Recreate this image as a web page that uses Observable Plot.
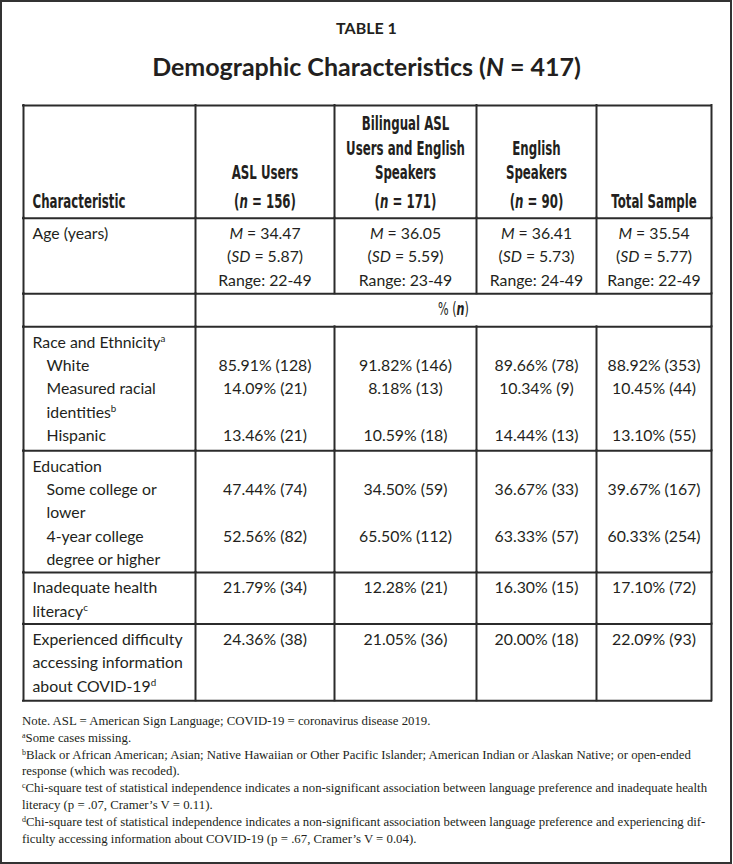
<!DOCTYPE html>
<html>
<head>
<meta charset="utf-8">
<script src="https://cdn.jsdelivr.net/npm/d3@7"></script>
<script src="https://cdn.jsdelivr.net/npm/@observablehq/plot@0.6"></script>
<style>
  html, body { margin:0; padding:0; background:#fff; }
  body { position:relative; width:733px; height:864px; overflow:hidden; color:#231f20; }
  #border { position:absolute; left:0; top:0; width:732px; height:864px; box-sizing:border-box; border:2px solid #333; pointer-events:none; }
  #kicker { position:absolute; left:0; width:733px; top:18px; line-height:20px; text-align:center; font:700 16px Lato, sans-serif; }
  #title { position:absolute; left:0; width:733px; top:51px; line-height:32px; text-align:center; font:700 25px Lato, sans-serif; }
  #chart { position:absolute; left:0; top:100px; }
  #notes { position:absolute; left:22px; top:713px; font:12.8px "Liberation Serif", serif; line-height:16.8px; white-space:nowrap; }
  #notes sup { font-size:0.62em; line-height:0; vertical-align:0.55em; }
</style>
</head>
<body>
<div id="kicker"></div>
<div id="title"></div>
<div id="chart"></div>
<div id="notes"></div>
<div id="border"></div>
<script>
// ---------------- data ----------------
const tableLabel = "TABLE 1";
const totalN = 417;
const charLabel = "Characteristic";
const groupHeader = [["ASL Users"], ["Bilingual ASL", "Users and English", "Speakers"], ["English", "Speakers"], ["Total Sample"]];
const groupN = [156, 171, 90, null];

const ageMean = [34.47, 36.05, 36.41, 35.54];
const ageSD = [5.87, 5.59, 5.73, 5.77];
const ageRange = ["22-49", "23-49", "24-49", "22-49"];

const whitePct = [85.91, 91.82, 89.66, 88.92];
const whiteN = [128, 146, 78, 353];
const measuredPct = [14.09, 8.18, 10.34, 10.45];
const measuredN = [21, 13, 9, 44];
const hispanicPct = [13.46, 10.59, 14.44, 13.10];
const hispanicN = [21, 18, 13, 55];
const someCollegePct = [47.44, 34.50, 36.67, 39.67];
const someCollegeN = [74, 59, 33, 167];
const fourYearPct = [52.56, 65.50, 63.33, 60.33];
const fourYearN = [82, 112, 57, 254];
const literacyPct = [21.79, 12.28, 16.30, 17.10];
const literacyN = [34, 21, 15, 72];
const difficultyPct = [24.36, 21.05, 20.00, 22.09];
const difficultyN = [38, 36, 18, 93];

const notes = [
  "Note. ASL = American Sign Language; COVID-19 = coronavirus disease 2019.",
  "<sup>a</sup>Some cases missing.",
  "<sup>b</sup>Black or African American; Asian; Native Hawaiian or Other Pacific Islander; American Indian or Alaskan Native; or open-ended",
  "response (which was recoded).",
  "<sup>c</sup>Chi-square test of statistical independence indicates a non-significant association between language preference and inadequate health",
  "literacy (p = .07, Cramer’s V = 0.11).",
  "<sup>d</sup>Chi-square test of statistical independence indicates a non-significant association between language preference and experiencing dif-",
  "ficulty accessing information about COVID-19 (p = .67, Cramer’s V = 0.04)."
];

const sections = [
  {heading: "Race and Ethnicity<sup>a</sup>", items: [
    {label: ["White"], pct: whitePct, n: whiteN},
    {label: ["Measured racial", "identities<sup>b</sup>"], pct: measuredPct, n: measuredN},
    {label: ["Hispanic"], pct: hispanicPct, n: hispanicN}]},
  {heading: "Education", items: [
    {label: ["Some college or", "lower"], pct: someCollegePct, n: someCollegeN},
    {label: ["4-year college", "degree or higher"], pct: fourYearPct, n: fourYearN}]},
  {heading: null, items: [{label: ["Inadequate health", "literacy<sup>c</sup>"], pct: literacyPct, n: literacyN}]},
  {heading: null, items: [{label: ["Experienced difficulty", "accessing information", "about COVID-19<sup>d</sup>"], pct: difficultyPct, n: difficultyN}]}
];

// ---------------- layout ----------------
const W = 733, H = 606;
const tableTop = 5, tableLeft = 23;
const colWidths = [172, 139, 142, 120, 115];
const rowHeights = [112.7, 75.6, 33, 124, 121.6, 51.7, 76.7];
const headerSlots = [18.3, 43.3, 67.7, 96.7];
const firstLine = 15.8, lineH = 23.3, padLeft = 9, indent = 14;
const ink = "#231f20", lineColor = "#2b2b2b";
const bodyFont = "Lato, 'Open Sans', sans-serif", bodySize = 15.8;
const headFont = "'Liberation Sans Narrow', 'DejaVu Sans Condensed', 'Liberation Sans', sans-serif", headSize = 19;
const headTargetWidth = 93; // rendered width of the "Characteristic" header in the reference

const colEdges = colWidths.reduce((a, w) => (a.push(a[a.length - 1] + w), a), [tableLeft]);
const rowEdges = rowHeights.reduce((a, h) => (a.push(a[a.length - 1] + h), a), [tableTop]);
const colMid = (i) => (colEdges[i] + colEdges[i + 1]) / 2;
const lineY = (r, k) => rowEdges[r] + firstLine + k * lineH;
const fmt = (p, n) => `${p.toFixed(2)}% (${n})`;

// header cells
const headStart = [{x: colEdges[0] + padLeft, y: rowEdges[0] + headerSlots[3], text: charLabel}];
const headMid = [];
groupHeader.forEach((lines, g) => {
  const all = groupN[g] != null ? [...lines, `(<bi>n</bi> = ${groupN[g]})`] : lines;
  all.forEach((t, k) => headMid.push({x: colMid(g + 1), y: rowEdges[0] + headerSlots[4 - all.length + k], text: t}));
});
const pctLabel = [{x: (colEdges[1] + colEdges[5]) / 2, y: lineY(2, 0), text: "% (<bi>n</bi>)"}];

// body cells
const bodyStart = [], bodyMid = [];
bodyStart.push({x: colEdges[0] + padLeft, y: lineY(1, 0), text: "Age (years)"});
ageMean.forEach((m, g) => {
  bodyMid.push({x: colMid(g + 1), y: lineY(1, 0), text: `<i>M</i> = ${m.toFixed(2)}`});
  bodyMid.push({x: colMid(g + 1), y: lineY(1, 1), text: `(<i>SD</i> = ${ageSD[g].toFixed(2)})`});
  bodyMid.push({x: colMid(g + 1), y: lineY(1, 2), text: `Range: ${ageRange[g]}`});
});
sections.forEach((sec, s) => {
  const r = 3 + s;
  let k = 0;
  const ind = sec.heading ? indent : 0;
  if (sec.heading) { bodyStart.push({x: colEdges[0] + padLeft, y: lineY(r, 0), text: sec.heading}); k = 1; }
  sec.items.forEach((it) => {
    it.label.forEach((t, j) => bodyStart.push({x: colEdges[0] + padLeft + ind, y: lineY(r, k + j), text: t}));
    it.pct.forEach((p, g) => bodyMid.push({x: colMid(g + 1), y: lineY(r, k), text: fmt(p, it.n[g])}));
    k += it.label.length;
  });
});

// grid lines
const hRules = rowEdges.map((y) => ({y}));
const vRules = [];
rowHeights.forEach((h, r) => {
  colEdges.forEach((x, c) => {
    if (r === 2 && c >= 2 && c <= 4) return;
    vRules.push({x, y1: rowEdges[r], y2: rowEdges[r + 1]});
  });
});

const textOpts = (family, size, weight, anchor) => ({
  x: "x", y: "y", text: "text", textAnchor: anchor, lineAnchor: "middle",
  fontFamily: family, fontSize: size, fontWeight: weight, fill: ink
});

const chart = Plot.plot({
  width: W, height: H, margin: 0,
  x: {type: "linear", domain: [0, W], range: [0, W], axis: null},
  y: {type: "linear", domain: [0, H], range: [0, H], axis: null},
  style: {background: "#fff", overflow: "visible"},
  marks: [
    Plot.ruleY(hRules, {y: "y", x1: () => colEdges[0], x2: () => colEdges[5], stroke: lineColor, strokeWidth: 2, strokeLinecap: "square"}),
    Plot.ruleX(vRules, {x: "x", y1: "y1", y2: "y2", stroke: lineColor, strokeWidth: 2, strokeLinecap: "square"}),
    Plot.text(bodyStart, textOpts(bodyFont, bodySize, "normal", "start")),
    Plot.text(bodyMid, textOpts(bodyFont, bodySize, "normal", "middle")),
    Plot.text(headStart, textOpts(headFont, headSize, "bold", "start")),
    Plot.text(headMid, textOpts(headFont, headSize, "bold", "middle")),
    Plot.text(pctLabel, textOpts(headFont, 18, "normal", "middle"))
  ]
});
document.getElementById("chart").appendChild(chart);

// rich text: italics, bold italics, superscripts
d3.select(chart).selectAll("text").each(function () {
  const s = this.textContent;
  if (!s.includes("<")) return;
  const size = parseFloat(this.closest("g").getAttribute("font-size")) || bodySize;
  const el = d3.select(this);
  el.text(null);
  const re = /<(i|bi|sup)>(.*?)<\/\1>|([^<]+)/g;
  let m;
  while ((m = re.exec(s))) {
    if (m[3]) el.append("tspan").text(m[3]);
    else if (m[1] === "i") el.append("tspan").attr("font-style", "italic").text(m[2]);
    else if (m[1] === "bi") el.append("tspan").attr("font-style", "italic").attr("font-weight", "bold").text(m[2]);
    else el.append("tspan").attr("font-size", size * 0.62).attr("dy", -size * 0.38).text(m[2]);
  }
});

// condensed header face: horizontal compression calibrated on the "Characteristic" label
const headTexts = d3.select(chart).selectAll("g").filter(function () {
  return (this.getAttribute("font-family") || "").includes("Narrow");
}).selectAll("text");
let natural = 0;
headTexts.each(function () { if (this.textContent === charLabel) natural = this.getComputedTextLength(); });
const headScale = natural > 0 ? Math.min(1, headTargetWidth / natural) : 0.8;
headTexts.each(function () {
  let t = this.getAttribute("transform");
  if (!t) {
    const x = +this.getAttribute("x") || 0, y = +this.getAttribute("y") || 0;
    this.removeAttribute("x"); this.removeAttribute("y");
    t = `translate(${x},${y})`;
  }
  this.setAttribute("transform", `${t} scale(${headScale},1)`);
});

document.getElementById("kicker").textContent = tableLabel;
document.getElementById("title").innerHTML = `Demographic Characteristics (<i>N</i> = ${totalN})`;
document.getElementById("notes").innerHTML = notes.join("<br>");
</script>
</body>
</html>
